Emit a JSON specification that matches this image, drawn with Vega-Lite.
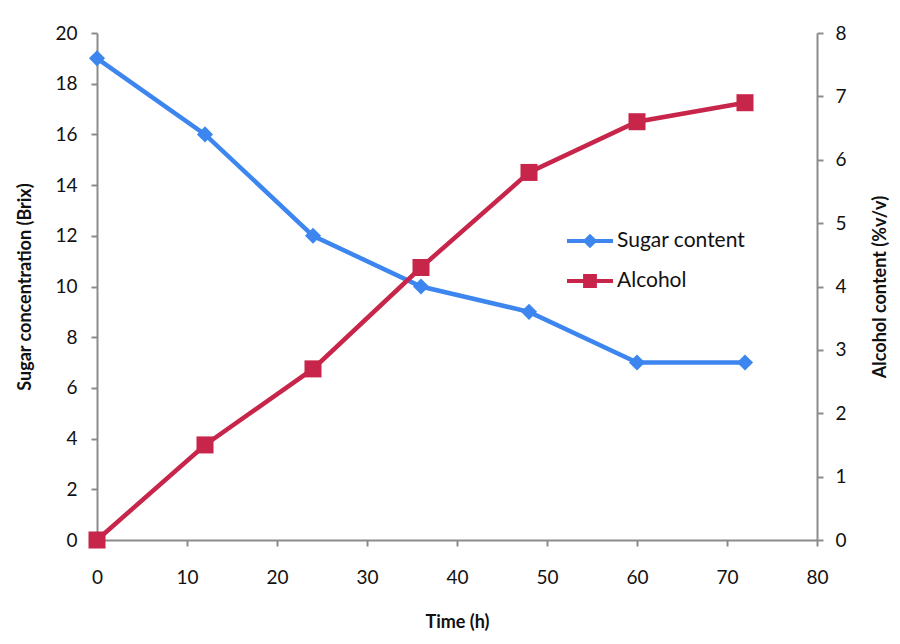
{
  "$schema": "https://vega.github.io/schema/vega-lite/v6.json",
  "width": 720,
  "height": 507,
  "autosize": {"type": "none"},
  "padding": {"left": 97, "top": 33, "right": 83, "bottom": 104},
  "background": "white",
  "config": {
    "view": {"stroke": null},
    "font": "Lato",
    "axis": {
      "grid": false,
      "domainColor": "#8c8c8c",
      "domainWidth": 2,
      "tickColor": "#8c8c8c",
      "tickWidth": 2,
      "tickSize": 6,
      "labelFont": "Lato",
      "labelFontSize": 19,
      "labelColor": "#111111",
      "titleFont": "Lato",
      "titleFontSize": 18,
      "titleFontWeight": "bold",
      "titleColor": "#111111"
    }
  },
  "data": {
    "values": [
      {"time": 0, "sugar": 19, "alcohol": 0},
      {"time": 12, "sugar": 16, "alcohol": 1.5},
      {"time": 24, "sugar": 12, "alcohol": 2.7},
      {"time": 36, "sugar": 10, "alcohol": 4.3},
      {"time": 48, "sugar": 9, "alcohol": 5.8},
      {"time": 60, "sugar": 7, "alcohol": 6.6},
      {"time": 72, "sugar": 7, "alcohol": 6.9}
    ]
  },
  "encoding": {
    "x": {
      "field": "time",
      "type": "quantitative",
      "scale": {"domain": [0, 80], "nice": false, "zero": false},
      "axis": {"values": [0, 10, 20, 30, 40, 50, 60, 70, 80], "title": "Time (h)", "labelPadding": 22, "titlePadding": 26, "labelFlush": false}
    }
  },
  "layer": [
    {
      "encoding": {
        "y": {
          "field": "sugar",
          "type": "quantitative",
          "scale": {"domain": [0, 20], "nice": false},
          "axis": {"orient": "left", "values": [0, 2, 4, 6, 8, 10, 12, 14, 16, 18, 20], "title": "Sugar concentration (Brix)", "labelPadding": 14, "titlePadding": 20}
        },
        "color": {
          "datum": "Sugar content",
          "type": "nominal",
          "scale": {"domain": ["Sugar content", "Alcohol"], "range": ["#3d86ef", "#c8254a"]},
          "legend": {
            "title": null,
            "orient": "none",
            "legendX": 470,
            "legendY": 185,
            "symbolSize": 2116,
            "symbolStrokeWidth": 0,
            "labelFont": "Lato",
            "labelFontSize": 21,
            "labelColor": "#111111",
            "labelOffset": 4,
            "rowPadding": 7,
            "symbolType": "M-1,-0.09H1V0.09H-1Z",
            "encode": {
              "symbols": {
                "update": {
                  "shape": {"signal": "datum.value === 'Sugar content' ? 'M-1,-0.09H1V0.09H-1Z M0,-0.32L0.32,0L0,0.32L-0.32,0Z' : 'M-1,-0.09H1V0.09H-1Z M-0.3,-0.3H0.3V0.3H-0.3Z'"},
                  "fill": {"signal": "datum.value === 'Sugar content' ? '#3d86ef' : '#c8254a'"},
                  "fillOpacity": {"value": 1},
                  "strokeWidth": {"value": 0}
                }
              }
            }
          }
        }
      },
      "layer": [
        {"mark": {"type": "line", "strokeWidth": 4.5}},
        {"mark": {"type": "point", "shape": "diamond", "filled": true, "size": 260, "opacity": 1}}
      ]
    },
    {
      "encoding": {
        "y": {
          "field": "alcohol",
          "type": "quantitative",
          "scale": {"domain": [0, 8], "nice": false},
          "axis": {"orient": "right", "values": [0, 1, 2, 3, 4, 5, 6, 7, 8], "title": "Alcohol content (%v/v)", "titleAngle": 270, "labelPadding": 12, "titlePadding": 43}
        },
        "color": {"datum": "Alcohol", "type": "nominal"}
      },
      "layer": [
        {"mark": {"type": "line", "strokeWidth": 4.5}},
        {"mark": {"type": "point", "shape": "square", "filled": true, "size": 290, "opacity": 1}}
      ]
    }
  ],
  "resolve": {"scale": {"y": "independent"}}
}
